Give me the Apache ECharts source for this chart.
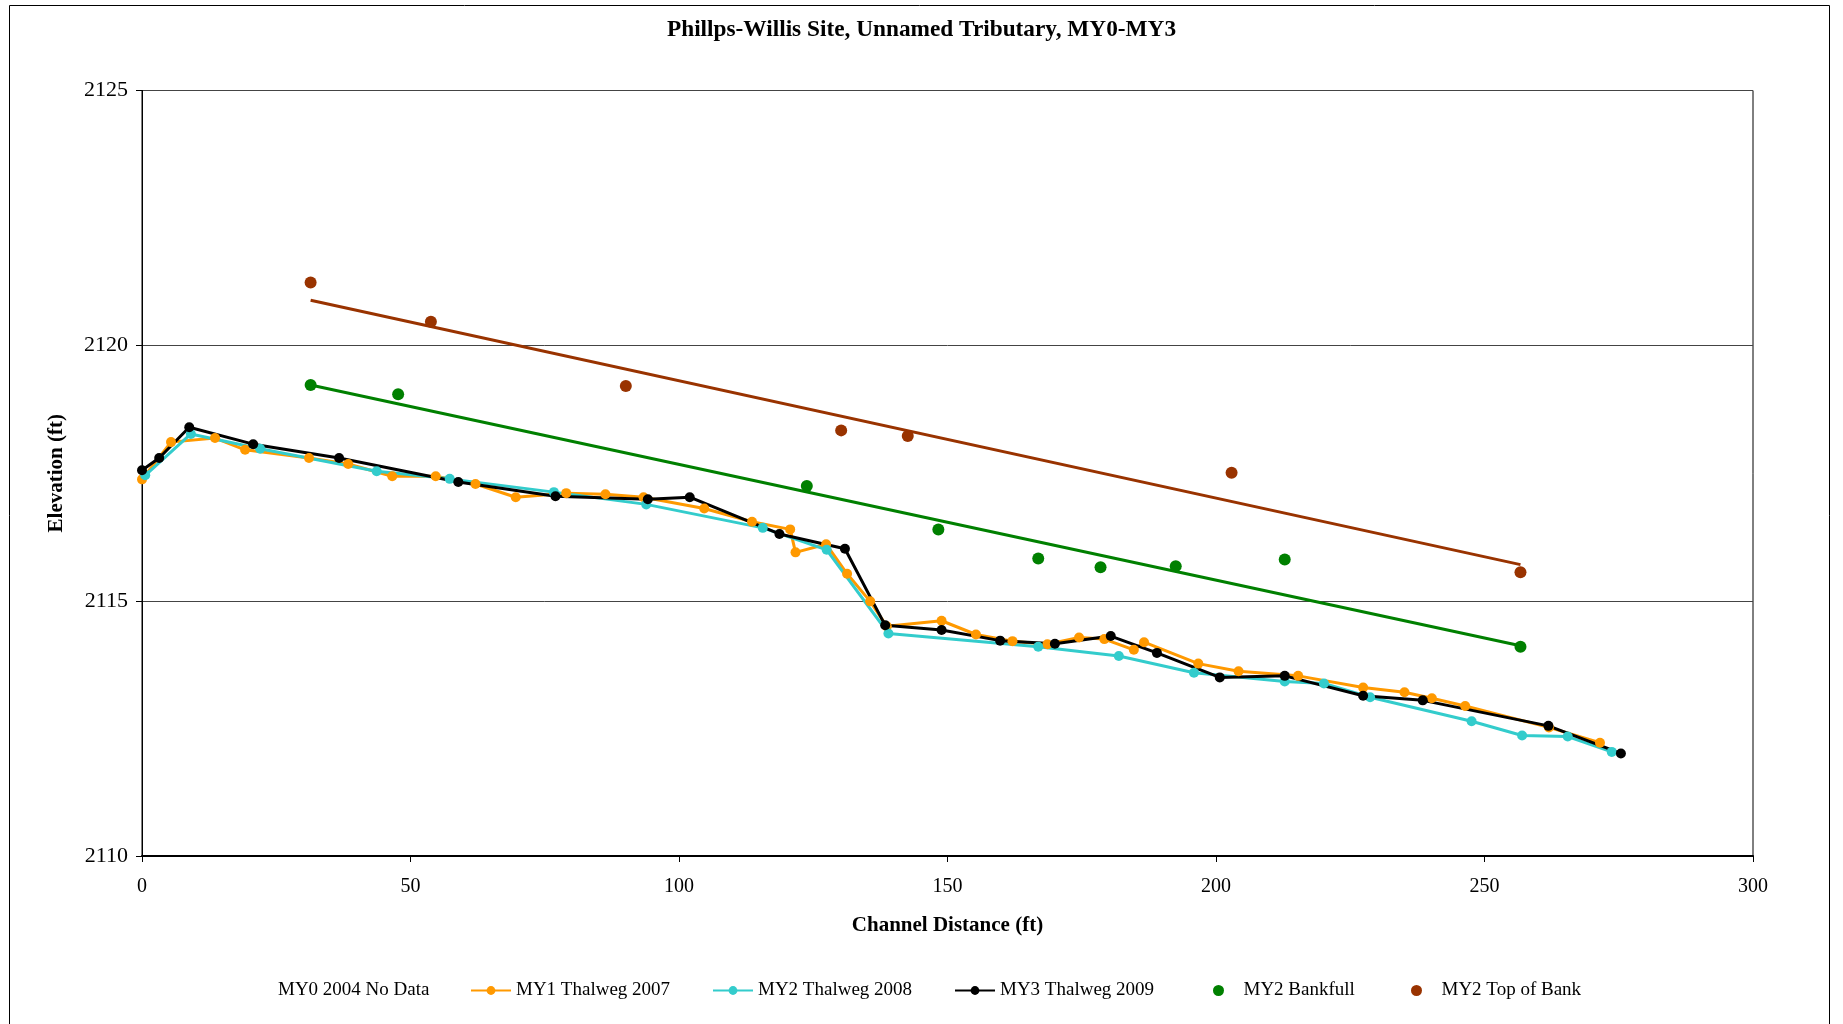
<!DOCTYPE html>
<html>
<head>
<meta charset="utf-8">
<script src="https://cdn.jsdelivr.net/npm/echarts@6/dist/echarts.min.js"></script>
<style>
html,body{margin:0;padding:0;background:#fff;}
#chart{width:1843px;height:1024px;}
</style>
</head>
<body>
<div id="chart"></div>
<script>
var xTicks = [0, 50, 100, 150, 200, 250, 300];
var yTicks = [2110, 2115, 2120, 2125];

var my1Thalweg2007 = [[0,2117.38],[5.4,2118.11],[13.6,2118.19],[19.2,2117.96],[31.1,2117.8],[38.4,2117.68],[46.6,2117.44],[54.7,2117.44],[62.1,2117.29],[69.6,2117.03],[79.0,2117.11],[86.3,2117.09],[93.4,2117.03],[104.7,2116.81],[113.6,2116.55],[120.7,2116.4],[121.7,2115.95],[127.4,2116.11],[131.3,2115.53],[135.6,2114.99],[138.7,2114.5],[148.9,2114.61],[155.3,2114.34],[162.1,2114.21],[168.6,2114.15],[174.5,2114.28],[179.2,2114.25],[184.7,2114.04],[186.6,2114.19],[196.7,2113.77],[204.2,2113.62],[215.3,2113.53],[227.4,2113.3],[235.1,2113.21],[240.2,2113.09],[246.4,2112.94],[262.0,2112.52],[271.5,2112.22]];

var my2Thalweg2008 = [[0.6,2117.46],[9.1,2118.27],[22.0,2117.98],[43.7,2117.54],[57.3,2117.39],[76.7,2117.13],[93.9,2116.89],[115.6,2116.43],[127.5,2116.0],[139.0,2114.36],[166.9,2114.1],[181.9,2113.92],[195.9,2113.59],[212.8,2113.42],[220.1,2113.38],[228.7,2113.11],[247.6,2112.64],[257.0,2112.36],[265.5,2112.34],[273.7,2112.04]];

var my3Thalweg2009 = [[0,2117.56],[3.2,2117.8],[8.8,2118.4],[20.7,2118.07],[36.7,2117.8],[58.9,2117.33],[77.0,2117.05],[94.2,2116.99],[102.0,2117.03],[118.7,2116.31],[130.9,2116.02],[138.4,2114.52],[148.9,2114.43],[159.8,2114.22],[170.0,2114.16],[180.4,2114.31],[189.0,2113.98],[200.7,2113.5],[212.8,2113.53],[227.4,2113.14],[238.5,2113.05],[261.9,2112.55],[275.4,2112.01]];

var my2Bankfull = [[31.4,2119.23],[47.7,2119.05],[123.8,2117.25],[148.3,2116.4],[166.9,2115.83],[178.5,2115.66],[192.5,2115.68],[212.8,2115.81],[256.7,2114.1]];
var my2BankfullTrend = [[31.4,2119.23],[256.7,2114.12]];

var my2TopOfBank = [[31.4,2121.24],[53.8,2120.47],[90.1,2119.21],[130.2,2118.34],[142.6,2118.23],[202.9,2117.51],[256.7,2115.56]];
var my2TopOfBankTrend = [[31.4,2120.89],[256.7,2115.71]];

var legendNames = ['MY0 2004 No Data', 'MY1 Thalweg 2007', 'MY2 Thalweg 2008', 'MY3 Thalweg 2009', 'MY2 Bankfull', 'MY2 Top of Bank'];

var FONT = '"Liberation Serif", "Times New Roman", serif';
var chart = echarts.init(document.getElementById('chart'));

function lineSeries(name, data, color) {
  return {
    name: name, type: 'line', data: data,
    symbol: 'circle', symbolSize: 10,
    lineStyle: {color: color, width: 3},
    itemStyle: {color: color, opacity: 1},
    emphasis: {disabled: true}
  };
}

var legendLefts = [232, 470, 712, 954, 1213, 1411];
var legends = legendNames.map(function (n, i) {
  var item = {name: n};
  if (i === 0) { item.itemStyle = {opacity: 0}; item.lineStyle = {opacity: 0}; }
  if (i >= 4) { item.icon = 'circle'; }
  return {
    left: legendLefts[i], top: 981, padding: 0,
    itemWidth: 40, itemHeight: 11, itemGap: 0,
    selectedMode: false,
    textStyle: {fontFamily: FONT, fontSize: 19, color: '#000'},
    data: [item]
  };
});

chart.setOption({
  backgroundColor: '#fff',
  animation: false,
  title: {
    text: 'Phillps-Willis Site, Unnamed Tributary, MY0-MY3',
    left: 'center', top: 13,
    textStyle: {fontFamily: FONT, fontSize: 23.3, fontWeight: 'bold', color: '#000'}
  },
  graphic: [{
    type: 'rect', silent: true, z: -1,
    shape: {x: 9.5, y: 5.5, width: 1820, height: 1040},
    style: {fill: 'none', stroke: '#000', lineWidth: 1}
  }],
  legend: legends,
  grid: {left: 142, right: 90, top: 90.5, bottom: 168, show: true, borderColor: '#000', borderWidth: 1},
  xAxis: {
    type: 'value', min: xTicks[0], max: xTicks[xTicks.length - 1], interval: 50,
    name: 'Channel Distance (ft)', nameLocation: 'middle', nameGap: 59,
    nameTextStyle: {fontFamily: FONT, fontSize: 21, fontWeight: 'bold', color: '#000'},
    axisLine: {show: true, lineStyle: {color: '#000', width: 2}},
    axisTick: {show: true, length: 6, lineStyle: {color: '#000'}},
    axisLabel: {fontFamily: FONT, fontSize: 20, color: '#000', margin: 21},
    splitLine: {show: false}
  },
  yAxis: {
    type: 'value', min: yTicks[0], max: yTicks[yTicks.length - 1], interval: 5,
    name: 'Elevation (ft)', nameLocation: 'middle', nameGap: 75,
    nameTextStyle: {fontFamily: FONT, fontSize: 21, fontWeight: 'bold', color: '#000'},
    axisLine: {show: true, lineStyle: {color: '#000', width: 1}},
    axisTick: {show: true, length: 6, lineStyle: {color: '#000'}},
    axisLabel: {fontFamily: FONT, fontSize: 22, color: '#000', margin: 14,
      formatter: function (v) { return String(v); }},
    splitLine: {show: true, lineStyle: {color: '#444', width: 1}}
  },
  series: [
    {name: 'MY0 2004 No Data', type: 'line', data: [], itemStyle: {color: 'rgba(0,0,0,0)'}, lineStyle: {color: 'rgba(0,0,0,0)'}},
    lineSeries('MY1 Thalweg 2007', my1Thalweg2007, '#FF9900'),
    lineSeries('MY2 Thalweg 2008', my2Thalweg2008, '#33CCCC'),
    lineSeries('MY3 Thalweg 2009', my3Thalweg2009, '#000000'),
    {name: 'MY2 Bankfull trend', type: 'line', data: my2BankfullTrend, symbol: 'none',
     lineStyle: {color: '#008000', width: 3}, itemStyle: {color: '#008000'}, z: 3},
    {name: 'MY2 Top of Bank trend', type: 'line', data: my2TopOfBankTrend, symbol: 'none',
     lineStyle: {color: '#993300', width: 3}, itemStyle: {color: '#993300'}, z: 3},
    {name: 'MY2 Bankfull', type: 'scatter', data: my2Bankfull, symbol: 'circle', symbolSize: 12,
     itemStyle: {color: '#008000', opacity: 1}, z: 4},
    {name: 'MY2 Top of Bank', type: 'scatter', data: my2TopOfBank, symbol: 'circle', symbolSize: 12,
     itemStyle: {color: '#993300', opacity: 1}, z: 4}
  ]
});
</script>
</body>
</html>
